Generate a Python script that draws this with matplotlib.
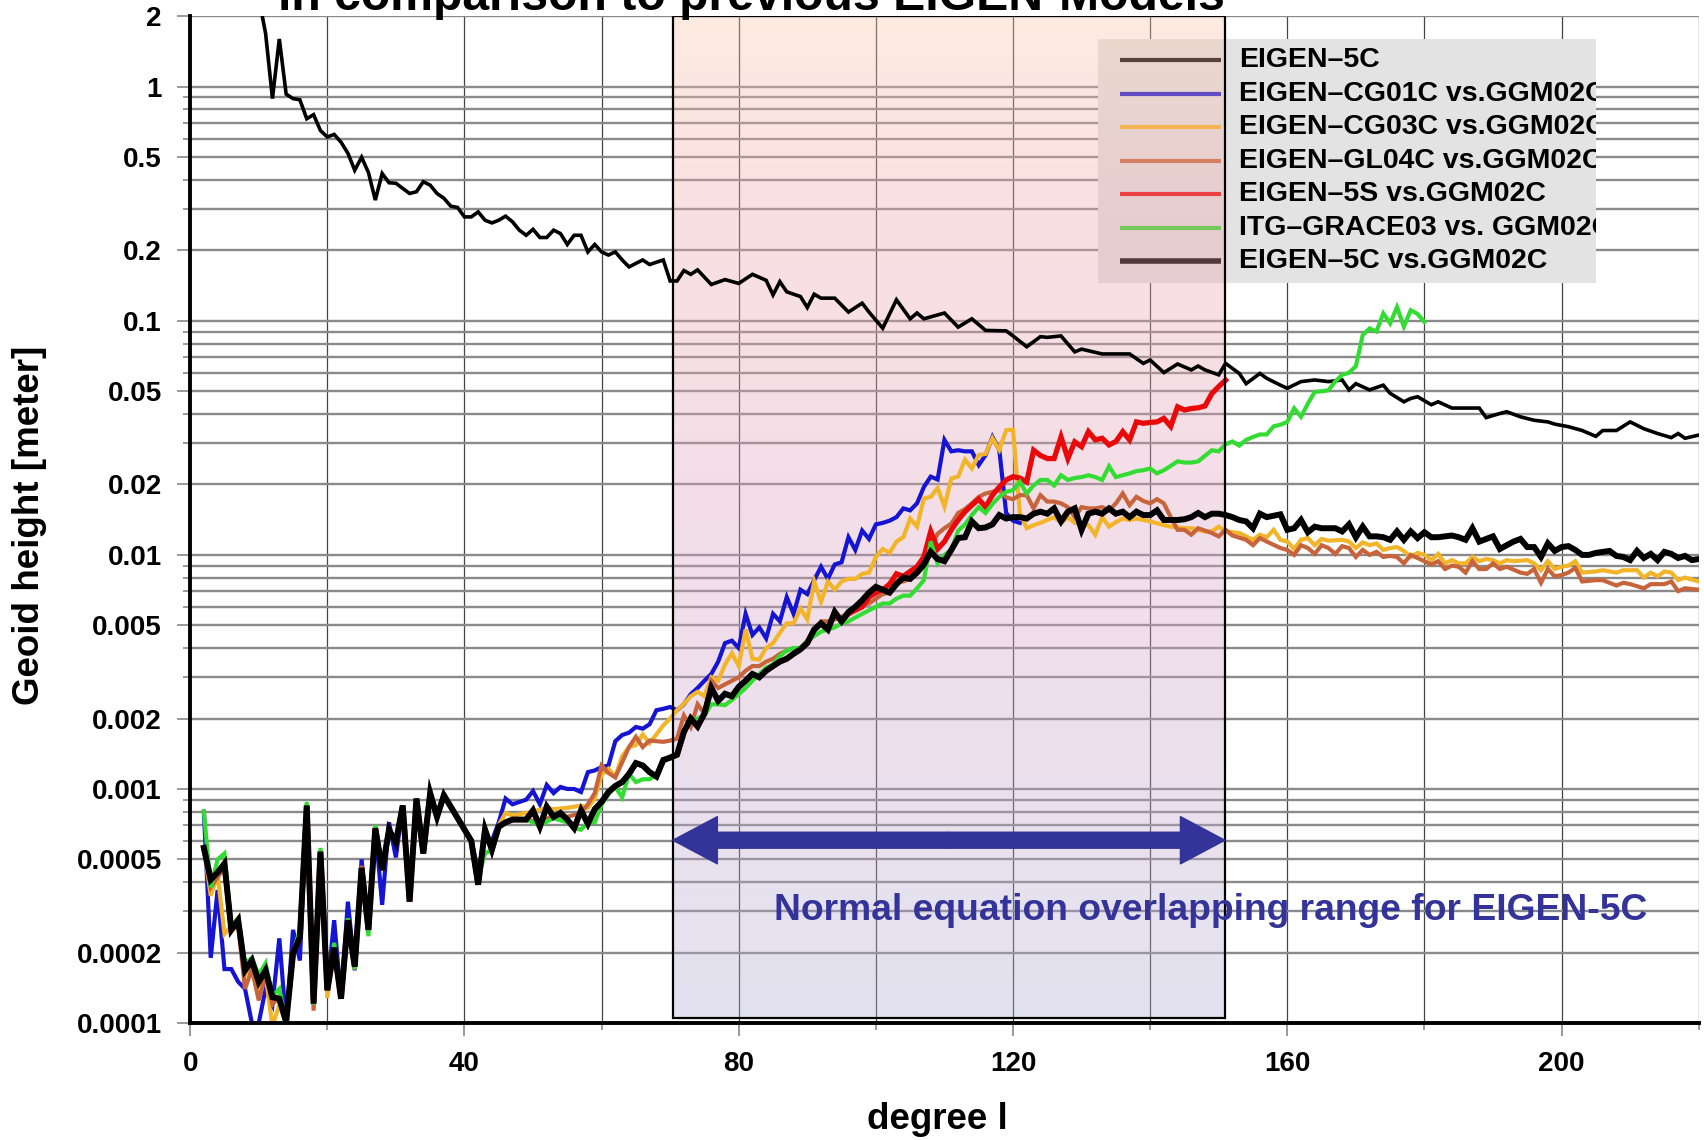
import numpy as np
import matplotlib
matplotlib.use('Agg')
import matplotlib.pyplot as plt
from matplotlib.ticker import FixedLocator, NullFormatter
from matplotlib.patches import Rectangle, FancyArrowPatch
from matplotlib.transforms import Bbox, TransformedBbox

plt.rcParams['font.family'] = ['Liberation Sans', 'DejaVu Sans']
plt.rcParams['font.weight'] = 'bold'

################################################################################################
# DATA  (degree l, geoid height in meter)
################################################################################################

# EIGEN-5C signal (thin black)
eigen5c = [(10, 2.4), (11, 1.69), (12, 0.89), (13, 1.6), (14, 0.93), (15, 0.89), (16, 0.88), (17, 0.73),
           (18, 0.76), (19, 0.65), (20, 0.61), (21, 0.626), (22, 0.58), (23, 0.52), (24, 0.44), (25, 0.5),
           (26, 0.43), (27, 0.328), (28, 0.426), (29, 0.389), (30, 0.387), (31, 0.368), (32, 0.35),
           (33, 0.356), (34, 0.393), (35, 0.38), (36, 0.35), (37, 0.334), (38, 0.309), (39, 0.305),
           (40, 0.278), (41, 0.278), (42, 0.292), (43, 0.269), (44, 0.262), (45, 0.269), (46, 0.28),
           (47, 0.265), (48, 0.244), (49, 0.232), (50, 0.246), (51, 0.227), (52, 0.227), (53, 0.244),
           (54, 0.236), (55, 0.212), (56, 0.232), (57, 0.232), (58, 0.197), (59, 0.212), (60, 0.197),
           (61, 0.191), (62, 0.197), (63, 0.182), (64, 0.17), (66, 0.182), (67, 0.174), (69, 0.182),
           (70, 0.148), (71, 0.148), (72, 0.164), (73, 0.158), (74, 0.165), (76, 0.143), (78, 0.15),
           (80, 0.1445), (82, 0.158), (84, 0.149), (85, 0.129), (86, 0.147), (87, 0.133), (89, 0.127),
           (90, 0.114), (91, 0.13), (92, 0.125), (94, 0.125), (96, 0.109), (98, 0.119), (99, 0.109),
           (101, 0.093), (103, 0.123), (105, 0.102), (106, 0.108), (107, 0.102), (110, 0.108),
           (112, 0.094), (114, 0.102), (116, 0.091), (119, 0.0906), (120, 0.0862), (122, 0.0775),
           (124, 0.0856), (125, 0.085), (127, 0.0862), (129, 0.0737), (130, 0.0757), (133, 0.0722),
           (135, 0.0722), (137, 0.0722), (139, 0.0658), (140, 0.068), (142, 0.0601), (144, 0.0654),
           (146, 0.0617), (147, 0.0641), (148, 0.0617), (150, 0.0588), (151, 0.0658), (153, 0.0596),
           (154, 0.0539), (156, 0.0596), (157, 0.0568), (159, 0.0531), (160, 0.0515), (162, 0.055),
           (164, 0.0559), (166, 0.055), (168, 0.0559), (169, 0.0507), (170, 0.0539), (172, 0.0507),
           (174, 0.0531), (175, 0.049), (177, 0.0451), (178, 0.0466), (179, 0.0474), (181, 0.0438),
           (182, 0.0451), (184, 0.0424), (186, 0.0424), (188, 0.0424), (189, 0.0386), (191, 0.0402),
           (192, 0.0409), (194, 0.0389), (196, 0.0376), (198, 0.037), (199, 0.0362), (201, 0.0353),
           (203, 0.034), (205, 0.0321), (206, 0.034), (208, 0.034), (210, 0.037), (212, 0.0346),
           (214, 0.033), (216, 0.0317), (217, 0.033), (218, 0.0315), (220, 0.0325)]

# EIGEN-5C vs. GGM02C (thick black), every degree 2..220
deg_5c = np.arange(2, 221)
diff_5c = [0.00056, 0.00041, 0.00044, 0.00048, 0.00025, 0.000275, 0.000168, 0.000185, 0.00015, 0.000168,
           0.000129, 0.000127, 0.000101, 0.000198, 0.000233, 0.00085, 0.000121, 0.00054, 0.000138, 0.00021,
           0.000127, 0.000275, 0.000174, 0.00046, 0.00025, 0.00068, 0.00045, 0.00067, 0.00059, 0.00085,
           0.00033, 0.00091, 0.00053, 0.00096, 0.00076, 0.00094, 0.00084, 0.00075, 0.00067, 0.0006,
           0.00039, 0.00067, 0.00055, 0.00069, 0.00072, 0.00074, 0.00074, 0.00074, 0.00081, 0.00069,
           0.00084, 0.00076, 0.00079, 0.00074, 0.00068, 0.00081, 0.00071, 0.00082, 0.00088, 0.00097,
           0.00103, 0.00107, 0.00116, 0.00129, 0.00126, 0.00118, 0.00113, 0.00133, 0.00136, 0.0014,
           0.00175, 0.002, 0.00185, 0.0021, 0.0027, 0.00238, 0.00255, 0.00249, 0.00273, 0.0029,
           0.0031, 0.003, 0.0032, 0.00335, 0.0035, 0.0036, 0.00378, 0.00395, 0.0042, 0.0048,
           0.0051, 0.0048, 0.0057, 0.0052, 0.0057, 0.006, 0.0064, 0.0069, 0.0073, 0.0071,
           0.0069, 0.0075, 0.008, 0.0079, 0.0084, 0.0091, 0.0103, 0.0096, 0.0094, 0.0105,
           0.0118, 0.0119, 0.0139, 0.013, 0.0131, 0.0135, 0.0148, 0.0143, 0.0145, 0.0145,
           0.0143, 0.015, 0.0153, 0.015, 0.0158, 0.0139, 0.0153, 0.0158, 0.0128, 0.015,
           0.0153, 0.015, 0.0158, 0.015, 0.0153, 0.0145, 0.0153, 0.0148, 0.0148, 0.0155,
           0.0141, 0.0141, 0.0141, 0.0142, 0.0145, 0.0151, 0.0145, 0.015, 0.015, 0.0148,
           0.0145, 0.0141, 0.0139, 0.013, 0.015, 0.0145, 0.0147, 0.0149, 0.0128, 0.013,
           0.0141, 0.0125, 0.0132, 0.013, 0.013, 0.013, 0.0126, 0.0135, 0.0119, 0.0132,
           0.012, 0.012, 0.0119, 0.0116, 0.0126, 0.0116, 0.0126, 0.0118, 0.0125, 0.0119,
           0.0119, 0.012, 0.0121, 0.0119, 0.0116, 0.013, 0.0114, 0.0117, 0.012, 0.0106,
           0.011, 0.0114, 0.0117, 0.0108, 0.0108, 0.0098, 0.0112, 0.0104, 0.0108, 0.0109,
           0.0105, 0.01, 0.01, 0.0102, 0.0103, 0.0104, 0.0099, 0.0098, 0.0095, 0.0104,
           0.0097, 0.0101, 0.0095, 0.0103, 0.0101, 0.0097, 0.0099, 0.0095, 0.0096]

# EIGEN-CG01C vs. GGM02C (blue)
cg01c = [(2, 0.0008), (3, 0.00019), (4, 0.00037), (5, 0.00017), (6, 0.00017), (7, 0.00015), (8, 0.00014),
         (9, 0.0001), (10, 0.0001), (11, 0.00014), (12, 0.00012), (13, 0.00023), (14, 0.0001), (15, 0.00025),
         (16, 0.000185), (17, 0.00085), (18, 0.00012), (19, 0.00054), (20, 0.00014), (21, 0.000275),
         (22, 0.000127), (23, 0.00033), (24, 0.000168), (25, 0.0005), (26, 0.00025), (27, 0.00068),
         (28, 0.00032), (29, 0.00072), (30, 0.00051), (31, 0.00085), (32, 0.00033), (33, 0.00091),
         (34, 0.00053), (35, 0.00096), (36, 0.00076), (37, 0.00094), (39, 0.00075), (41, 0.0006),
         (42, 0.00045), (43, 0.00062), (44, 0.0006), (45, 0.00072), (46, 0.00091), (47, 0.00086),
         (48, 0.00088), (49, 0.0009), (50, 0.00098), (51, 0.00086), (52, 0.00104), (53, 0.00096),
         (54, 0.00102), (55, 0.001), (56, 0.001), (57, 0.00097), (58, 0.00118), (59, 0.0012), (60, 0.00124),
         (61, 0.00126), (62, 0.0016), (63, 0.0017), (64, 0.00174), (65, 0.00184), (66, 0.00181),
         (67, 0.00189), (68, 0.00217), (69, 0.0022), (70, 0.00224), (71, 0.00217), (72, 0.0023),
         (73, 0.00254), (74, 0.0027), (75, 0.0029), (76, 0.0031), (77, 0.0035), (78, 0.0042), (79, 0.0043),
         (80, 0.004), (81, 0.0056), (82, 0.00455), (83, 0.0049), (84, 0.0044), (85, 0.0056), (86, 0.0052),
         (87, 0.0066), (88, 0.0056), (89, 0.0071), (90, 0.0068), (91, 0.0078), (92, 0.0089), (93, 0.0079),
         (94, 0.0091), (95, 0.0093), (96, 0.0119), (97, 0.0105), (98, 0.0127), (99, 0.0117), (100, 0.0135),
         (101, 0.0137), (102, 0.014), (103, 0.0145), (104, 0.0158), (105, 0.0155), (106, 0.0166),
         (107, 0.0195), (108, 0.0216), (109, 0.021), (110, 0.031), (111, 0.0277), (112, 0.028),
         (113, 0.0277), (114, 0.0277), (115, 0.0242), (116, 0.0267), (117, 0.0319), (118, 0.0281),
         (119, 0.0151), (120, 0.014), (121, 0.0137)]

# EIGEN-CG03C vs. GGM02C (yellow)
cg03c = [(2, 0.00056), (3, 0.00035), (4, 0.00043), (5, 0.00024), (6, 0.00026), (7, 0.00027), (8, 0.00016),
         (9, 0.00018), (10, 0.00014), (11, 0.00016), (12, 0.000097), (13, 0.00012), (14, 0.0001), (15, 0.0002),
         (16, 0.00023), (17, 0.00084), (18, 0.00012), (19, 0.00053), (20, 0.000128), (21, 0.00021),
         (22, 0.00013), (23, 0.00027), (24, 0.00017), (25, 0.00046), (26, 0.00026), (27, 0.0007),
         (28, 0.00045), (29, 0.00067), (30, 0.00059), (31, 0.00085), (32, 0.00033), (33, 0.00091),
         (34, 0.00053), (35, 0.00096), (36, 0.00076), (37, 0.00094), (39, 0.00075), (41, 0.0006),
         (42, 0.00039), (43, 0.00066), (44, 0.00055), (45, 0.0007), (46, 0.00079), (47, 0.00077),
         (48, 0.00078), (50, 0.0008), (52, 0.00083), (53, 0.00082), (55, 0.00083), (57, 0.00085),
         (58, 0.00083), (59, 0.00091), (60, 0.00115), (61, 0.00122), (62, 0.00113), (63, 0.00138),
         (64, 0.00151), (65, 0.00154), (66, 0.00171), (67, 0.00157), (68, 0.00171), (69, 0.00187),
         (70, 0.002), (71, 0.00217), (72, 0.00231), (73, 0.00249), (74, 0.0026), (75, 0.00249), (76, 0.003),
         (77, 0.0029), (78, 0.0034), (79, 0.0038), (80, 0.00335), (81, 0.0048), (82, 0.0036), (83, 0.00357),
         (84, 0.004), (85, 0.0042), (86, 0.00465), (87, 0.0051), (88, 0.0051), (89, 0.0059), (90, 0.0053),
         (91, 0.0077), (92, 0.0063), (93, 0.0077), (94, 0.0071), (95, 0.0077), (96, 0.0079), (97, 0.0079),
         (98, 0.0083), (99, 0.0084), (100, 0.0098), (101, 0.0106), (102, 0.0102), (103, 0.0114),
         (104, 0.0119), (105, 0.0143), (106, 0.0132), (107, 0.0174), (108, 0.0177), (109, 0.0193),
         (110, 0.0161), (111, 0.0212), (112, 0.0216), (113, 0.0255), (114, 0.0234), (115, 0.0267),
         (116, 0.027), (117, 0.0315), (118, 0.0281), (119, 0.0341), (120, 0.0343), (121, 0.0151),
         (122, 0.013), (123, 0.0134), (124, 0.0137), (125, 0.0141), (126, 0.0145), (127, 0.0137),
         (128, 0.0145), (129, 0.0137), (130, 0.0136), (131, 0.0134), (132, 0.0122), (133, 0.0145),
         (134, 0.0132), (135, 0.0138), (136, 0.0143), (137, 0.0141), (138, 0.0143), (139, 0.0141),
         (140, 0.0139), (142, 0.0134), (143, 0.0132), (145, 0.013), (146, 0.013), (148, 0.0126),
         (149, 0.0126), (150, 0.0132), (151, 0.0126), (153, 0.0124), (154, 0.012), (155, 0.0116),
         (156, 0.0122), (157, 0.0119), (158, 0.0128), (159, 0.0116), (160, 0.0114), (161, 0.0106),
         (162, 0.0116), (163, 0.0118), (164, 0.011), (165, 0.0117), (166, 0.0115), (168, 0.0116),
         (169, 0.0114), (170, 0.0107), (171, 0.0113), (172, 0.011), (173, 0.0112), (174, 0.0105),
         (175, 0.0107), (176, 0.0108), (177, 0.0104), (178, 0.0098), (179, 0.0102), (180, 0.01),
         (181, 0.0095), (182, 0.0101), (183, 0.0092), (184, 0.0095), (185, 0.0092), (186, 0.0092),
         (187, 0.0098), (188, 0.0094), (189, 0.0096), (190, 0.0095), (191, 0.0092), (192, 0.0095),
         (193, 0.0094), (195, 0.0095), (196, 0.0092), (197, 0.0086), (198, 0.0094), (199, 0.0087),
         (200, 0.0089), (201, 0.009), (202, 0.0094), (203, 0.0084), (205, 0.0085), (206, 0.0086),
         (207, 0.0085), (208, 0.0084), (209, 0.0086), (211, 0.0086), (212, 0.008), (213, 0.0084),
         (214, 0.0081), (215, 0.0085), (216, 0.0084), (217, 0.0078), (218, 0.008), (220, 0.0077)]

# EIGEN-GL04C vs. GGM02C (brown)
gl04c = [(2, 0.00055), (3, 0.00038), (4, 0.00042), (5, 0.00046), (6, 0.00025), (7, 0.00026), (8, 0.00014),
         (9, 0.00017), (10, 0.000125), (11, 0.00016), (12, 0.00012), (13, 0.00013), (14, 0.0001), (15, 0.0002),
         (16, 0.00023), (17, 0.00084), (18, 0.000113), (19, 0.00053), (20, 0.00014), (21, 0.00021),
         (22, 0.00013), (23, 0.00028), (24, 0.00017), (25, 0.00047), (26, 0.00026), (27, 0.00068),
         (28, 0.00045), (29, 0.00067), (30, 0.00059), (31, 0.00085), (32, 0.00033), (33, 0.00091),
         (34, 0.00053), (35, 0.00096), (36, 0.00076), (37, 0.00094), (39, 0.00075), (41, 0.0006),
         (42, 0.00039), (43, 0.00067), (44, 0.00055), (45, 0.00069), (47, 0.00074), (49, 0.00074),
         (51, 0.00072), (53, 0.00077), (55, 0.00076), (57, 0.00079), (58, 0.00086), (59, 0.00096),
         (60, 0.00126), (61, 0.00117), (62, 0.00112), (63, 0.0013), (64, 0.00151), (65, 0.00167),
         (66, 0.00151), (67, 0.00161), (68, 0.0016), (69, 0.00159), (70, 0.00161), (71, 0.00164),
         (72, 0.00206), (73, 0.00184), (74, 0.0023), (75, 0.0021), (76, 0.0029), (77, 0.0027), (78, 0.0028),
         (79, 0.0029), (80, 0.003), (81, 0.0032), (82, 0.00335), (83, 0.00335), (84, 0.0035), (85, 0.0036),
         (86, 0.00378), (87, 0.0039), (88, 0.004), (89, 0.004), (90, 0.0043), (91, 0.0047), (92, 0.0052),
         (93, 0.0052), (94, 0.0053), (95, 0.00545), (96, 0.0056), (97, 0.0059), (98, 0.0061), (99, 0.0062),
         (100, 0.0065), (101, 0.0068), (102, 0.0069), (103, 0.0077), (104, 0.0077), (105, 0.0079),
         (106, 0.0089), (107, 0.0098), (108, 0.0106), (109, 0.0123), (110, 0.013), (111, 0.0136),
         (112, 0.0151), (113, 0.0157), (114, 0.0166), (115, 0.0177), (116, 0.0183), (117, 0.0186),
         (118, 0.0189), (119, 0.0176), (120, 0.0173), (121, 0.018), (122, 0.018), (123, 0.0158),
         (124, 0.018), (125, 0.0169), (126, 0.0169), (127, 0.0166), (128, 0.016), (129, 0.0145),
         (130, 0.016), (131, 0.0158), (132, 0.0158), (133, 0.016), (134, 0.0155), (135, 0.0166),
         (136, 0.0183), (137, 0.0163), (138, 0.0177), (139, 0.017), (140, 0.0166), (141, 0.0173),
         (142, 0.0166), (143, 0.0145), (144, 0.0128), (145, 0.0128), (146, 0.0122), (147, 0.013),
         (148, 0.0127), (149, 0.0124), (150, 0.012), (151, 0.0128), (152, 0.0121), (154, 0.0116),
         (155, 0.011), (156, 0.0118), (157, 0.0114), (159, 0.0107), (160, 0.0105), (161, 0.01),
         (162, 0.011), (163, 0.0107), (164, 0.0101), (165, 0.011), (166, 0.0107), (167, 0.0101),
         (168, 0.0109), (169, 0.0107), (170, 0.0098), (171, 0.0105), (172, 0.01), (173, 0.0103),
         (174, 0.0098), (175, 0.0099), (176, 0.0098), (177, 0.0092), (178, 0.01), (179, 0.0097),
         (180, 0.0094), (181, 0.0091), (182, 0.0094), (183, 0.0087), (184, 0.009), (185, 0.0089),
         (186, 0.0084), (187, 0.0094), (188, 0.0087), (189, 0.0087), (190, 0.0092), (191, 0.0087),
         (192, 0.0089), (194, 0.0084), (195, 0.0083), (196, 0.0087), (197, 0.0076), (198, 0.0087),
         (199, 0.0081), (200, 0.0082), (201, 0.0084), (202, 0.0088), (203, 0.0077), (205, 0.0078),
         (206, 0.0078), (207, 0.0076), (208, 0.0074), (209, 0.0076), (210, 0.0075), (212, 0.0072),
         (213, 0.0075), (215, 0.0075), (216, 0.0077), (217, 0.007), (218, 0.0072), (220, 0.0071)]

# EIGEN-5S vs. GGM02C (red); below degree 96 it runs under the black curve
eigen5s_high = [(96, 0.0056), (97, 0.0058), (98, 0.006), (99, 0.0066), (100, 0.0069), (101, 0.0071),
                (102, 0.0075), (103, 0.0083), (104, 0.0081), (105, 0.0085), (106, 0.0089), (107, 0.0098),
                (108, 0.0126), (109, 0.0106), (110, 0.0114), (111, 0.0128), (112, 0.0141), (113, 0.0153),
                (114, 0.0163), (115, 0.0173), (116, 0.016), (117, 0.018), (118, 0.0195), (119, 0.0209),
                (120, 0.0216), (121, 0.0213), (122, 0.0205), (123, 0.028), (124, 0.0266), (125, 0.0258),
                (126, 0.0258), (127, 0.0319), (128, 0.0258), (129, 0.0304), (130, 0.029), (131, 0.0336),
                (132, 0.031), (133, 0.0315), (134, 0.0295), (135, 0.0305), (136, 0.0336), (137, 0.031),
                (138, 0.037), (139, 0.0365), (140, 0.0368), (141, 0.037), (142, 0.0383), (143, 0.0354),
                (144, 0.0429), (145, 0.0416), (146, 0.0422), (147, 0.0425), (148, 0.0433), (149, 0.0489),
                (150, 0.0524), (151, 0.0558)]

# ITG-GRACE03 vs. GGM02C (green)
itg03 = [(2, 0.0008), (3, 0.00038), (4, 0.0005), (5, 0.00053), (6, 0.00026), (7, 0.00028), (8, 0.00018),
         (9, 0.00019), (10, 0.00016), (11, 0.00018), (12, 0.00013), (13, 0.00014), (14, 0.0001), (15, 0.0002),
         (16, 0.00025), (17, 0.00088), (18, 0.00012), (19, 0.00056), (20, 0.00014), (21, 0.00022),
         (22, 0.00013), (23, 0.00028), (24, 0.00017), (25, 0.00045), (26, 0.000235), (27, 0.0007),
         (28, 0.00045), (29, 0.00067), (30, 0.00059), (31, 0.00085), (32, 0.00033), (33, 0.00091),
         (34, 0.00053), (35, 0.00096), (36, 0.00076), (37, 0.00094), (39, 0.00075), (41, 0.0006),
         (42, 0.00042), (43, 0.00053), (44, 0.00055), (45, 0.00069), (47, 0.00074), (49, 0.00074),
         (51, 0.0007), (53, 0.00075), (55, 0.00072), (56, 0.00068), (57, 0.00067), (58, 0.00072),
         (59, 0.00072), (60, 0.00086), (61, 0.00095), (62, 0.00102), (63, 0.00092), (64, 0.00116),
         (65, 0.00107), (66, 0.0011), (67, 0.0011), (68, 0.00116), (69, 0.0013), (70, 0.00138),
         (71, 0.00141), (72, 0.00178), (73, 0.00195), (74, 0.002), (75, 0.00206), (76, 0.0023), (77, 0.0023),
         (78, 0.00228), (79, 0.0024), (80, 0.00254), (81, 0.0027), (82, 0.0029), (83, 0.0031), (84, 0.0033),
         (85, 0.0034), (86, 0.0037), (87, 0.0039), (88, 0.004), (89, 0.004), (90, 0.0043), (91, 0.0045),
         (92, 0.0047), (93, 0.0048), (94, 0.0049), (95, 0.0051), (96, 0.0052), (97, 0.0054), (98, 0.0056),
         (99, 0.0058), (100, 0.006), (101, 0.0062), (102, 0.0062), (103, 0.0065), (104, 0.0067),
         (105, 0.0067), (106, 0.0072), (107, 0.0078), (108, 0.0114), (109, 0.0092), (110, 0.01),
         (111, 0.0105), (112, 0.0127), (113, 0.0135), (114, 0.0148), (115, 0.016), (116, 0.0151),
         (117, 0.0165), (118, 0.0177), (119, 0.0186), (120, 0.0189), (121, 0.0205), (122, 0.0183),
         (123, 0.0198), (124, 0.0209), (125, 0.0209), (126, 0.0198), (127, 0.0219), (128, 0.0209),
         (129, 0.0213), (130, 0.0215), (131, 0.0219), (132, 0.0215), (133, 0.0209), (134, 0.0239),
         (135, 0.0215), (136, 0.0219), (137, 0.0223), (138, 0.0228), (139, 0.023), (140, 0.0234),
         (141, 0.0223), (142, 0.023), (143, 0.024), (144, 0.0251), (145, 0.0248), (146, 0.0248),
         (147, 0.0251), (148, 0.0265), (149, 0.028), (150, 0.0277), (151, 0.0297), (152, 0.0305),
         (153, 0.0293), (154, 0.031), (155, 0.0319), (156, 0.0327), (157, 0.0327), (158, 0.0354),
         (159, 0.036), (160, 0.037), (161, 0.0423), (162, 0.0389), (163, 0.0443), (164, 0.0497),
         (165, 0.05), (166, 0.0505), (167, 0.0551), (168, 0.0588), (169, 0.06), (170, 0.064),
         (171, 0.087), (172, 0.0928), (173, 0.09), (174, 0.1076), (175, 0.0975), (176, 0.1145),
         (177, 0.0945), (178, 0.111), (179, 0.107), (180, 0.0989)]

labels = ['EIGEN\u20135C', 'EIGEN\u2013CG01C vs.GGM02C', 'EIGEN\u2013CG03C vs.GGM02C',
          'EIGEN\u2013GL04C vs.GGM02C', 'EIGEN\u20135S vs.GGM02C', 'ITG\u2013GRACE03 vs. GGM02C',
          'EIGEN\u20135C vs.GGM02C']
colors = ['black', '#1414d2', '#f2b428', '#c8643c', '#e80a0a', '#32dc32', 'black']
widths = [2.6, 3.0, 3.0, 3.0, 3.8, 3.0, 4.3]

ytick_vals = [0.0001, 0.0002, 0.0005, 0.001, 0.002, 0.005, 0.01, 0.02, 0.05, 0.1, 0.2, 0.5, 1, 2]
ytick_labels = ['0.0001', '0.0002', '0.0005', '0.001', '0.002', '0.005', '0.01', '0.02', '0.05',
                '0.1', '0.2', '0.5', '1', '2']
overlap = (70.4, 150.9)   # normal equation overlapping range

################################################################################################
# PLOT
################################################################################################

fig = plt.figure(figsize=(17.04, 11.40), dpi=100)
ax = fig.add_axes([0.1116, 0.1026, 0.8853, 0.8831])

red_low = [(d, v) for d, v in zip(deg_5c, diff_5c) if d < 96]
series = [eigen5c, cg01c, cg03c, gl04c, red_low + eigen5s_high, itg03]
for data, col, lw in zip(series, colors, widths):
    d, v = zip(*data)
    ax.plot(d, v, color=col, lw=lw, zorder=3, solid_joinstyle='miter')
ax.plot(deg_5c, diff_5c, color='black', lw=widths[-1], zorder=3.2, solid_joinstyle='miter')

ax.set_yscale('log')
ax.set_xlim(0, 220)
ax.set_ylim(0.0001, 2)

ax.yaxis.set_major_locator(FixedLocator(ytick_vals))
ax.yaxis.set_ticklabels(ytick_labels)
minor_y = [k * 10.0 ** e for e in range(-4, 1) for k in (3, 4, 6, 7, 8, 9)]
ax.yaxis.set_minor_locator(FixedLocator(minor_y))
ax.yaxis.set_minor_formatter(NullFormatter())
ax.xaxis.set_major_locator(FixedLocator([0, 40, 80, 120, 160, 200]))
ax.xaxis.set_minor_locator(FixedLocator([20, 60, 100, 140, 180, 220]))

ax.set_axisbelow(True)
ax.yaxis.grid(True, which='both', color='#8a8a8a', lw=1.7)
ax.xaxis.grid(True, which='both', color='#444444', lw=0.9)

for side in ['top', 'right']:
    ax.spines[side].set_visible(False)
for side in ['left', 'bottom']:
    ax.spines[side].set_linewidth(2.8)
    ax.spines[side].set_zorder(6)

ax.tick_params(axis='y', which='major', length=9.5, width=1.2, color='#888888', pad=11, labelsize=20)
ax.tick_params(axis='y', which='minor', length=5, width=1.2, color='#888888')
ax.tick_params(axis='x', which='major', length=9, width=1.2, color='#888888', pad=11, labelsize=20)
ax.tick_params(axis='x', which='minor', length=5, width=1.2, color='#888888')
for t in ax.get_xticklabels() + ax.get_yticklabels():
    t.set_fontweight('bold')

# legend box (drawn under the shading, like the original); labels are cut at the box edge
box_bounds = (0.6018, 0.7351, 0.3304, 0.2424)
box = Rectangle(box_bounds[:2], box_bounds[2], box_bounds[3], transform=ax.transAxes,
                facecolor='#e3e3e3', edgecolor='none', zorder=1.5)
ax.add_patch(box)
clip = TransformedBbox(Bbox.from_bounds(*box_bounds), ax.transAxes)
for i, (lab, col, lw) in enumerate(zip(labels, colors, widths)):
    yy = 0.9566 - i * 0.03333
    ax.plot([0.6167, 0.6833], [yy, yy], transform=ax.transAxes, color=col,
            lw=3.0 if i < 6 else 4.0, zorder=1.6, solid_capstyle='butt')
    t = ax.text(0.6952, yy, lab, transform=ax.transAxes, fontsize=20.5, fontweight='bold',
                va='center', ha='left', zorder=1.7)
    t.set_clip_on(True)
    t.set_clip_box(clip)

# shaded overlapping range with vertical colour gradient
ys = np.linspace(1, 0, 200)
stops = [0.0, 0.45, 0.8, 1.0]
rgb = np.zeros((200, 1, 3))
for ch, vals in enumerate([[175, 218, 241, 249], [172, 161, 166, 198], [212, 195, 172, 169]]):
    rgb[:, 0, ch] = np.interp(ys, stops, vals) / 255.0
ax.imshow(rgb, extent=(overlap[0], overlap[1], 0.005, 1.0), transform=ax.get_xaxis_transform(),
          aspect='auto', alpha=0.35, zorder=2, interpolation='bilinear')
ax.add_patch(Rectangle((overlap[0], 0.005), overlap[1] - overlap[0], 0.995,
                       transform=ax.get_xaxis_transform(), fill=False, ec='black', lw=1.6, zorder=4))
ax.set_xlim(0, 220)
ax.set_ylim(0.0001, 2)

# double headed arrow and annotation
mid = 0.5 * (overlap[0] + overlap[1])
for end in overlap:
    ax.add_patch(FancyArrowPatch((mid, 0.000604), (end, 0.000604),
                                 arrowstyle='simple,head_length=32,head_width=34,tail_width=11.5',
                                 mutation_scale=1, color='#333399', shrinkA=0, shrinkB=0, zorder=5))
ax.text(85.2, 0.000303, 'Normal equation overlapping range for EIGEN-5C', color='#333399',
        fontsize=26.8, fontweight='bold', va='center', ha='left', zorder=5)

fig.text(0.5502, 0.0184, 'degree l', fontsize=26.5, fontweight='bold', ha='center', va='center')
fig.text(0.0176, 0.5395, 'Geoid height [meter]', fontsize=26.5, fontweight='bold',
         ha='center', va='center', rotation=90)
fig.text(0.4407, 1 - 10.5 / 1140, 'in comparison to previous EIGEN-Models', fontsize=34.7,
         fontweight='bold', ha='center', va='baseline')

fig.savefig('out.png', dpi=100)
